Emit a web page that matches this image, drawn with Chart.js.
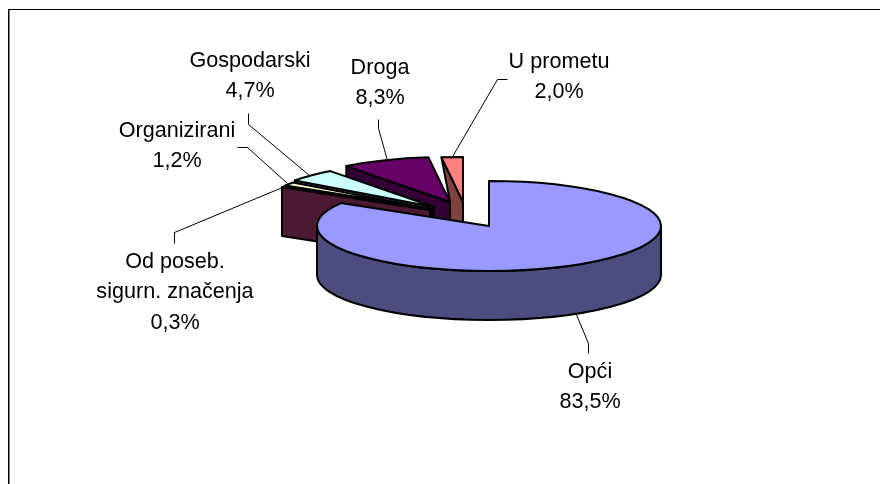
<!DOCTYPE html>
<html>
<head>
<meta charset="utf-8">
<style>html,body{margin:0;padding:0;background:#fff}canvas{display:block}</style>
<script src="https://cdn.jsdelivr.net/npm/chart.js@4"></script>
</head>
<body>
<canvas id="c" width="880" height="484"></canvas>
<script>
const categories = [['Opći'], ['Od poseb.', 'sigurn. značenja'], ['Organizirani'], ['Gospodarski'], ['Droga'], ['U prometu']];
const shares = [83.5, 0.3, 1.2, 4.7, 8.3, 2.0];
const topColors = ['#9999FF', '#993366', '#FFFFCC', '#CCFFFF', '#660066', '#FF8080'];
const wallColors = ['#4C4C7F', '#4C1933', '#7F7F66', '#667F7F', '#330033', '#7F4040'];

// layout of the tilted, exploded pie
const squash = 45 / 172, depth = 49;
const explode = [[0, 0], [-59, -16], [-57, -17], [-55, -19], [-39, -24], [-26, -24]];
const wallInset = [0, 0, 0, 0, 0, 13];
const labelPos = [[590, 372], [175, 262], [177, 131], [250, 61], [380, 68], [559, 62]];
const leaders = [
  [[588, 353], [588, 343], [575, 312]],
  [[174, 243], [174, 232], [282, 187]],
  [[237, 147], [247, 147], [287, 183]],
  [[248, 113], [248, 124], [309, 175]],
  [[378, 119], [378, 128], [387, 160]],
  [[507, 79], [497, 79], [451, 158]]
];

const pie3d = {
  id: 'pie3d',
  beforeDatasetDraw(chart) {
    const ctx = chart.ctx, arcs = chart.getDatasetMeta(0).data;
    ctx.save();
    ctx.strokeStyle = '#000';
    ctx.lineWidth = 2;
    ctx.lineJoin = 'round';
    for (let i = arcs.length - 1; i >= 0; i--) {
      const el = arcs[i], r = el.outerRadius;
      const cx = el.x + explode[i][0], cy = el.y + explode[i][1];
      const px = a => cx + r * Math.cos(a), py = a => cy + r * squash * Math.sin(a);
      const a0 = el.startAngle, a1 = el.endAngle;
      // side wall
      ctx.beginPath();
      if (i === 0) {
        ctx.ellipse(cx, cy, r, r * squash, 0, 0, Math.PI, false);
        ctx.ellipse(cx, cy + depth, r, r * squash, 0, Math.PI, 0, true);
      } else {
        const ins = wallInset[i];
        ctx.moveTo(px(a0), py(a0));
        ctx.lineTo(cx, cy);
        ctx.lineTo(cx, cy + depth);
        if (ins) {
          ctx.lineTo(cx - ins, cy + depth);
          ctx.lineTo(cx - ins, cy);
        } else {
          ctx.lineTo(px(a0), py(a0) + depth);
        }
      }
      ctx.closePath();
      ctx.fillStyle = wallColors[i];
      ctx.fill();
      ctx.stroke();
      // top face, painted by the library's arc element
      ctx.save();
      ctx.translate(cx, cy);
      ctx.scale(1, squash);
      ctx.translate(-el.x, -el.y);
      el.draw(ctx);
      ctx.restore();
      ctx.beginPath();
      ctx.moveTo(cx, cy);
      ctx.ellipse(cx, cy, r, r * squash, 0, a0, a1, false);
      ctx.closePath();
      ctx.stroke();
    }
    ctx.restore();
    return false;
  },
  afterDraw(chart) {
    const ctx = chart.ctx;
    ctx.save();
    // frame: top and left only
    ctx.fillStyle = '#808080';
    ctx.fillRect(9, 10, 1, 474);
    ctx.fillStyle = '#000';
    ctx.fillRect(8, 9, 872, 1);
    ctx.fillRect(8, 9, 1, 475);
    // leader lines
    ctx.strokeStyle = '#000';
    ctx.lineWidth = 1;
    leaders.forEach(pts => {
      ctx.beginPath();
      pts.forEach((p, j) => j ? ctx.lineTo(p[0] + .5, p[1] + .5) : ctx.moveTo(p[0] + .5, p[1] + .5));
      ctx.stroke();
    });
    // labels
    ctx.fillStyle = '#000';
    ctx.font = '21.6px "Liberation Sans", Arial, sans-serif';
    ctx.textAlign = 'center';
    ctx.textBaseline = 'middle';
    categories.forEach((lines, i) => {
      const all = lines.concat(shares[i].toFixed(1).replace('.', ',') + '%');
      all.forEach((t, j) => ctx.fillText(t, labelPos[i][0], labelPos[i][1] + j * 30.5));
    });
    ctx.restore();
  }
};

new Chart(document.getElementById('c'), {
  type: 'pie',
  data: {
    labels: categories.map(l => l.join(' ')),
    datasets: [{ data: shares, backgroundColor: topColors, borderWidth: 0 }]
  },
  options: {
    responsive: false,
    animation: false,
    layout: { padding: { left: 317, right: 219, top: 54, bottom: 86 } },
    plugins: { legend: { display: false }, tooltip: { enabled: false } }
  },
  plugins: [pie3d]
});
</script>
</body>
</html>
